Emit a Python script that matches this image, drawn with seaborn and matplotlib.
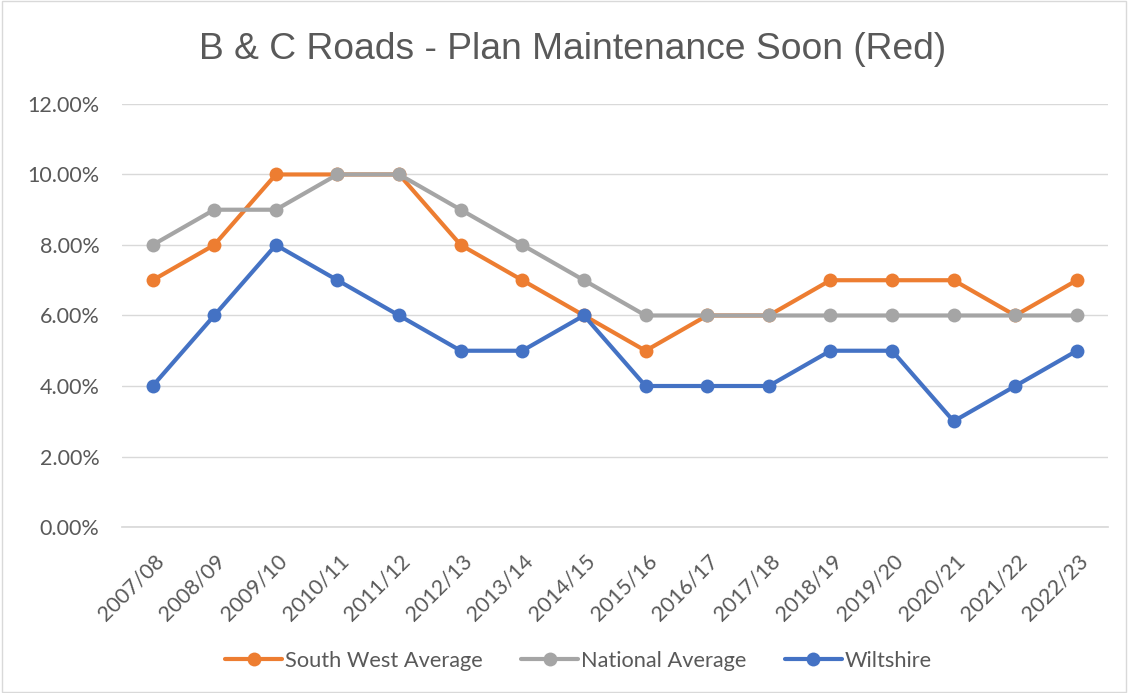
import matplotlib
matplotlib.use("Agg")
import matplotlib.pyplot as plt
import matplotlib.transforms as mtransforms
import seaborn as sns
import pandas as pd
from matplotlib.ticker import PercentFormatter
from matplotlib.patches import Rectangle

years = ["2007/08", "2008/09", "2009/10", "2010/11", "2011/12", "2012/13", "2013/14",
         "2014/15", "2015/16", "2016/17", "2017/18", "2018/19", "2019/20", "2020/21",
         "2021/22", "2022/23"]
south_west = [7, 8, 10, 10, 10, 8, 7, 6, 5, 6, 6, 7, 7, 7, 6, 7]
national = [8, 9, 9, 10, 10, 9, 8, 7, 6, 6, 6, 6, 6, 6, 6, 6]
wiltshire = [4, 6, 8, 7, 6, 5, 5, 6, 4, 4, 4, 5, 5, 3, 4, 5]
series_names = ["South West Average", "National Average", "Wiltshire"]
colors = ["#ED7D31", "#A5A5A5", "#4472C4"]

rows = []
for name, vals in zip(series_names, [south_west, national, wiltshire]):
    for i, (y, v) in enumerate(zip(years, vals)):
        rows.append({"Year": y, "idx": i, "Series": name, "Value": v})
df = pd.DataFrame(rows)

sns.set_theme(style="white")
plt.rcParams['font.family'] = ['Lato', 'DejaVu Sans']

fig = plt.figure(figsize=(11.28, 6.93), dpi=100)
ax = fig.add_axes([0.108, 0.2395, 0.874, 0.6105])

sns.lineplot(data=df, x="idx", y="Value", hue="Series", hue_order=series_names,
             palette=colors, marker="o", markersize=10, markeredgewidth=0,
             linewidth=3, ax=ax, legend=True, sort=False)

ax.set_xlim(-0.5, 15.5)
ax.set_ylim(0, 12)
ax.set_yticks([0, 2, 4, 6, 8, 10, 12])
ax.yaxis.set_major_formatter(PercentFormatter(decimals=2))
ax.set_xticks(range(len(years)))
ax.set_xticklabels(years, rotation=45, ha="right", rotation_mode="anchor")
ax.grid(axis="y", color="#D9D9D9", linewidth=1)
ax.set_axisbelow(True)
for s in ["top", "right", "left"]:
    ax.spines[s].set_visible(False)
ax.spines["bottom"].set_color("#D9D9D9")
ax.tick_params(axis="both", colors="#595959", length=0)
ax.tick_params(axis="y", pad=16, labelsize=15.5)
ax.tick_params(axis="x", pad=17, labelsize=15.5)
offset = mtransforms.ScaledTranslation(1 / 100, 0, fig.dpi_scale_trans)
for lab in ax.get_xticklabels():
    lab.set_transform(lab.get_transform() + offset)
ax.set_xlabel("")
ax.set_ylabel("")

fig.text(0.508, 0.928, "B & C Roads - Plan Maintenance Soon (Red)", ha="center", va="center",
         fontsize=26.8, color="#595959", family=["Liberation Sans", "DejaVu Sans"])

handles, labels = ax.get_legend_handles_labels()
ax.legend(handles, labels, loc="center", bbox_to_anchor=(0.513, 0.046),
          bbox_transform=fig.transFigure, ncol=3, frameon=False, fontsize=15.7,
          labelcolor="#595959", handlelength=2.6, columnspacing=1.75, handletextpad=0.15)

fig.patches.append(Rectangle((0.002, 0.002), 0.996, 0.996, transform=fig.transFigure,
                             fill=False, edgecolor="#D9D9D9", linewidth=1))

fig.savefig("out.png", dpi=100)
